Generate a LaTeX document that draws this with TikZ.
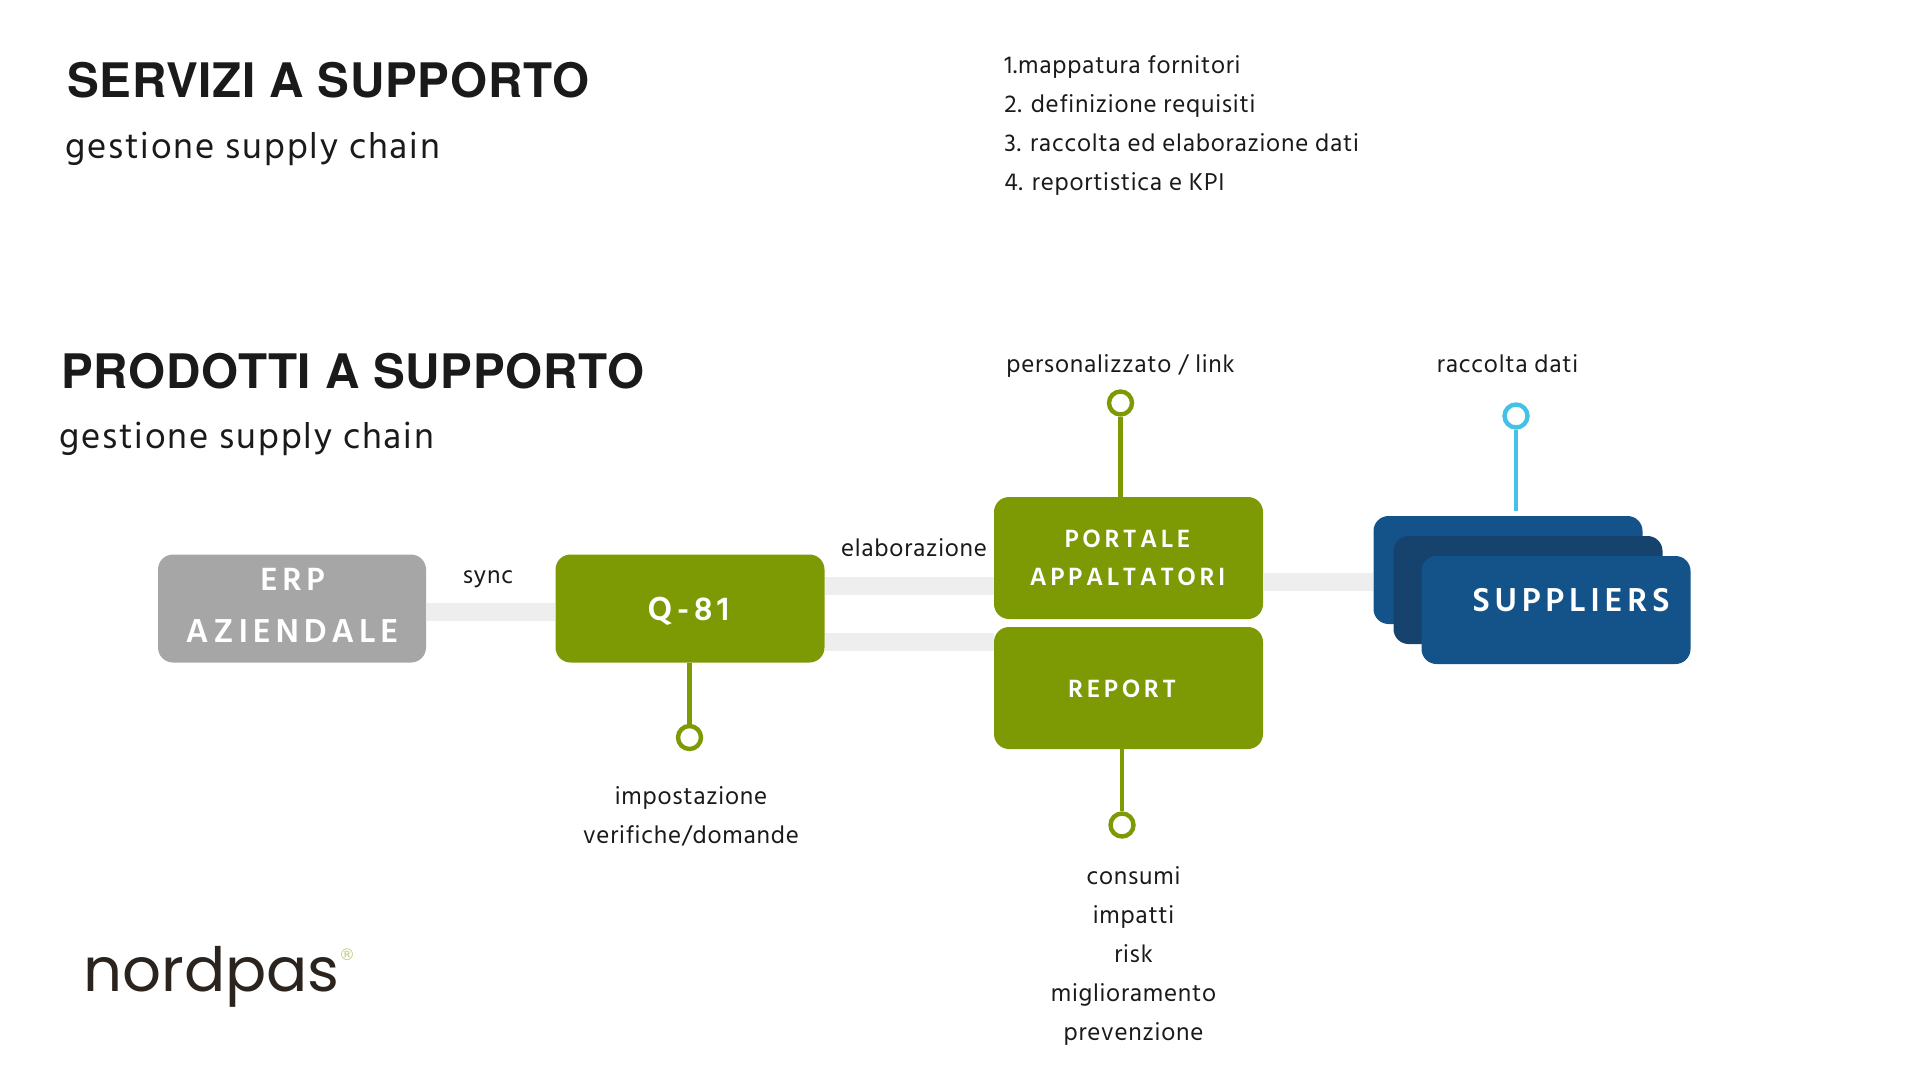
\documentclass[tikz,border=0pt]{standalone}
\usepackage{fontspec}
\setmainfont{Hind Madurai}
\newfontfamily\bodyf[LetterSpace=3]{Hind Madurai}
\newfontfamily\subf[LetterSpace=5]{Hind Madurai}
\newfontfamily\titlef[LetterSpace=1.5]{TeX Gyre Heros}
\newfontfamily\boxf[LetterSpace=14]{Hind Madurai}
\newfontfamily\logof{Poppins}
\newfontfamily\regf{DejaVu Sans}
\definecolor{olive}{HTML}{7D9A04}
\definecolor{ink}{HTML}{1A1A1A}
\definecolor{band}{HTML}{EEEEEE}
\definecolor{greybox}{HTML}{A6A6A6}
\definecolor{bluea}{HTML}{14538A}
\definecolor{blueb}{HTML}{16426E}
\definecolor{cyanpin}{HTML}{45C1E6}
\tikzset{
  card/.style={draw=none,rounded corners=7.5,inner sep=0,minimum width=134.5,minimum height=54},
  link/.style={draw=band,line width=9},
  pin/.style={line width=2.2},
  ring/.style={circle,draw,fill=white,line width=2.2,minimum size=11.5,inner sep=0},
  body/.style={font=\bodyf\fontsize{12.5}{14}\selectfont,text=ink,inner sep=0,anchor=base},
  bodyw/.style={body,anchor=base west},
  sub/.style={font=\subf\fontsize{18.4}{21}\selectfont,text=ink,inner sep=0,anchor=base west},
  head/.style={font=\titlef\bfseries\fontsize{23.8}{28}\selectfont,text=ink,inner sep=0,anchor=base west},
  boxt/.style={font=\boxf\bfseries\fontsize{#1}{#1}\selectfont,text=white,inner sep=0,anchor=base},
}
\begin{document}
\begin{tikzpicture}[x=0.5pt,y=-0.5pt]
\useasboundingbox (0,0) rectangle (1920,1080);
\fill[white] (0,0) rectangle (1920,1080);
% boxes
\node[card,fill=greybox,minimum width=134] (erp) at (292,608.5) {};
\node[card,fill=olive] (q) at (690,608.5) {};
\node[card,fill=olive,minimum height=61] (port) at (1128.5,558) {};
\node[card,fill=olive,minimum height=61] (rep) at (1128.5,688) {};
\node[card,fill=bluea] (s1) at (1508,570) {};
\node[card,fill=blueb] (s2) at (1528,590) {};
\node[card,fill=bluea] (s3) at (1556,610) {};
% anchors for the bands
\coordinate (ea) at (erp.east |- 0,612);
\coordinate (qc) at (q.west |- 0,612);
\coordinate (qa) at (q.east |- 0,585.5);
\coordinate (pa) at (port.west |- 0,585.5);
\coordinate (qb) at (q.east |- 0,641.5);
\coordinate (ra) at (rep.west |- 0,641.5);
\coordinate (pb) at (port.east |- 0,581.5);
\coordinate (sa) at (s1.west |- 0,581.5);
\draw[link] (ea) -- (qc);
\draw[link] (qa) -- (pa);
\draw[link] (qb) -- (ra);
\draw[link] (pb) -- (sa);
% pins
\node[ring,draw=olive] (rp) at (1120.5,403) {};
\draw[pin,olive] (rp) -- (port.north -| rp);
\node[ring,draw=cyanpin] (rs) at (1516,416) {};
\coordinate (rse) at (1516,511);
\draw[pin,cyanpin] (rs) -- (rse);
\node[ring,draw=olive] (rq) at (689.5,737.5) {};
\draw[pin,olive] (q.south -| rq) -- (rq);
\node[ring,draw=olive] (rr) at (1122,825) {};
\draw[pin,olive] (rep.south -| rr) -- (rr);
% box texts
\node[boxt=16.5] (t1) at (292.5,590) {ERP};
\node[boxt=17] (t2) at (292,642) {AZIENDALE};
\node[boxt=17] (t3) at (688.5,620) {Q-81};
\node[boxt=12.8] (t4) at (1127.5,547) {PORTALE};
\node[boxt=12.8] (t5) at (1127.5,585) {APPALTATORI};
\node[boxt=12.8] (t6) at (1122,697) {REPORT};
\node[boxt=17] (t7) at (1571,611) {SUPPLIERS};
% headings
\node[head] (h1) at (67,98) {SERVIZI A SUPPORTO};
\node[sub] (h2) at (65,159) {gestione supply chain};
\node[head] (h3) at (61,388.5) {PRODOTTI A SUPPORTO};
\node[sub] (h4) at (59,448) {gestione supply chain};
% list
\node[bodyw] (l1) at (1004,74) {1.mappatura fornitori};
\node[bodyw] (l2) at (1004,113) {2. definizione requisiti};
\node[bodyw] (l3) at (1004,152) {3. raccolta ed elaborazione dati};
\node[bodyw] (l4) at (1004,191) {4. reportistica e KPI};
% labels
\node[body] (a) at (488,583) {sync};
\node[body] (b) at (914,556.5) {elaborazione};
\node[body] (c) at (1120.5,372.5) {personalizzato / link};
\node[body] (d) at (1507.6,372.5) {raccolta dati};
\node[body] (e) at (691,804) {impostazione};
\node[body] (f) at (691,843) {verifiche/domande};
\node[body] (g1) at (1133.5,884) {consumi};
\node[body] (g2) at (1133.5,923) {impatti};
\node[body] (g3) at (1133.5,962) {risk};
\node[body] (g4) at (1133.5,1001) {miglioramento};
\node[body] (g5) at (1133.5,1040) {prevenzione};
% logo
\node[font=\logof\fontsize{30.5}{40}\selectfont,text=ink!90!brown,inner sep=0,anchor=base west] (logo) at (83,991) {nordpas};
\node[font=\regf\fontsize{8}{8}\selectfont,text=olive!50,inner sep=0] (reg) at (347,955) {®};
\end{tikzpicture}
\end{document}
